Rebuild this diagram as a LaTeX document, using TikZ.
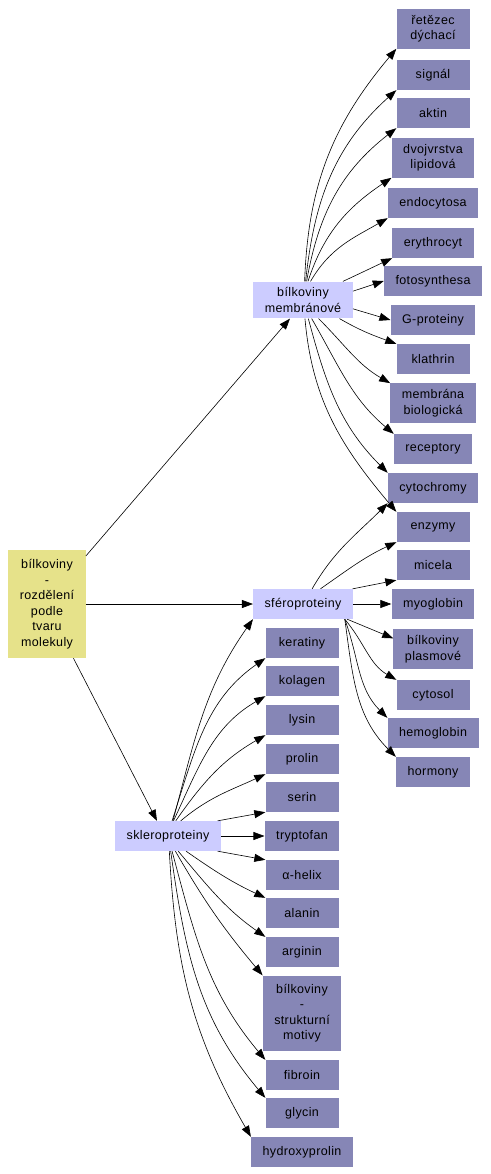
\documentclass[tikz,border=0pt]{standalone}
\usepackage{fontspec}
\setmainfont[LetterSpace=3]{Liberation Sans}
\usepackage{xcolor}
\usetikzlibrary{arrows.meta,positioning}
\definecolor{leafblue}{RGB}{134,134,182}
\definecolor{grouplilac}{RGB}{204,204,255}
\definecolor{rootkhaki}{RGB}{230,226,138}

\begin{document}
\begin{tikzpicture}[x=1pt, y=1pt, >={Triangle[length=11pt,width=8pt]},
        basebox/.style={minimum width=73pt, minimum height=30pt, inner xsep=11.5pt, inner ysep=6pt,
            align=center, font=\fontsize{12.5}{15.5}\selectfont},
        leafbox/.style={basebox, fill=leafblue},
        groupbox/.style={basebox, fill=grouplilac},
        rootbox/.style={basebox, fill=rootkhaki},
        edge/.style={->, line width=0.6pt}]
        \useasboundingbox (0,0) rectangle (490,-1174);

        % Root and the three groups
        \node[rootbox, minimum height=108pt] (root) at (47,-604) {bílkoviny\\-\\rozdělení\\podle\\tvaru\\molekuly};
        \node[groupbox] (mem) at (303,-300) {bílkoviny\\membránové};
        \node[groupbox] (sfe) at (303,-604) {sféroproteiny};
        \node[groupbox] (skl) at (168,-836) {skleroproteiny};

        % Right column
        \node[leafbox] (ret) at (433,-29) {řetězec\\dýchací};
        \node[leafbox] (sig) at (433,-75) {signál};
        \node[leafbox] (akt) at (433,-113) {aktin};
        \node[leafbox] (dvo) at (433,-158) {dvojvrstva\\lipidová};
        \node[leafbox] (endo) at (433,-203) {endocytosa};
        \node[leafbox] (ery) at (433,-243) {erythrocyt};
        \node[leafbox] (foto) at (433,-281) {fotosynthesa};
        \node[leafbox] (gpro) at (433,-320) {G-proteiny};
        \node[leafbox] (kla) at (433,-359) {klathrin};
        \node[leafbox] (mbio) at (433,-403) {membrána\\biologická};
        \node[leafbox] (rec) at (433,-449) {receptory};
        \node[leafbox] (cyto) at (433,-488) {cytochromy};
        \node[leafbox] (enz) at (433,-527) {enzymy};
        \node[leafbox] (mic) at (433,-565) {micela};
        \node[leafbox] (myo) at (433,-604) {myoglobin};
        \node[leafbox] (bpla) at (433,-649) {bílkoviny\\plasmové};
        \node[leafbox] (cyts) at (433,-695) {cytosol};
        \node[leafbox] (hemo) at (433,-733) {hemoglobin};
        \node[leafbox] (horm) at (433,-772) {hormony};

        % Middle column
        \node[leafbox] (ker) at (302,-643) {keratiny};
        \node[leafbox] (kol) at (302,-681) {kolagen};
        \node[leafbox] (lys) at (302,-720) {lysin};
        \node[leafbox] (pro) at (302,-759) {prolin};
        \node[leafbox] (ser) at (302,-797) {serin};
        \node[leafbox] (try) at (302,-836) {tryptofan};
        \node[leafbox] (ahel) at (302,-875) {α-helix};
        \node[leafbox] (ala) at (302,-913) {alanin};
        \node[leafbox] (arg) at (302,-952) {arginin};
        \node[leafbox, minimum height=75pt] (bsm) at (302,-1013) {bílkoviny\\-\\strukturní\\motivy};
        \node[leafbox] (fib) at (302,-1075) {fibroin};
        \node[leafbox] (gly) at (302,-1113) {glycin};
        \node[leafbox] (hyd) at (302,-1152) {hydroxyprolin};

        % Root edges
        \draw[edge] (root.51) -- (mem.235);
        \draw[edge] (root.east) -- (sfe.west);
        \draw[edge] (root.-64) -- (skl.126);

        % Membrane proteins
        \draw[edge] (mem.85) to[out=88, in=230] (ret.south west);
        \draw[edge] (mem.82) to[out=84, in=222] (sig.south west);
        \draw[edge] (mem.79) to[out=80, in=218] (akt.south west);
        \draw[edge] (mem.75) to[out=72, in=214] (dvo.south west);
        \draw[edge] (mem.68) to[out=60, in=210] (endo.south west);
        \draw[edge] (mem.25) to[out=25, in=205] (ery.south west);
        \draw[edge] (mem.10) -- (foto.west);
        \draw[edge] (mem.-10) -- (gpro.west);
        \draw[edge] (mem.-27) to[out=-30, in=160] (kla.north west);
        \draw[edge] (mem.-50) to[out=-45, in=150] (mbio.north west);
        \draw[edge] (mem.-65) to[out=-60, in=140] (rec.north west);
        \draw[edge] (mem.-74) to[out=-75, in=135] (cyto.north west);
        \draw[edge] (mem.-84) to[out=-85, in=130] (enz.north west);

        % Spheroproteins
        \draw[edge] (sfe.59) to[out=60, in=225] (cyto.south west);
        \draw[edge] (sfe.41) to[out=35, in=205] (enz.south west);
        \draw[edge] (sfe.17) -- (mic.south west);
        \draw[edge] (sfe.east) -- (myo.west);
        \draw[edge] (sfe.-19) -- (bpla.165);
        \draw[edge] (sfe.-20) to[out=-50, in=150] (cyts.north west);
        \draw[edge] (sfe.-20) to[out=-70, in=135] (hemo.north west);
        \draw[edge] (sfe.-20) to[out=-82, in=135] (horm.north west);

        % Scleroproteins
        \draw[edge] (skl.72) to[out=75, in=235] (sfe.south west);
        \draw[edge] (skl.75) to[out=72, in=215] (ker.south west);
        \draw[edge] (skl.70) to[out=65, in=210] (kol.south west);
        \draw[edge] (skl.63) to[out=55, in=210] (lys.south west);
        \draw[edge] (skl.50) to[out=40, in=205] (pro.south west);
        \draw[edge] (skl.17) -- (ser.south west);
        \draw[edge] (skl.east) -- (try.west);
        \draw[edge] (skl.-17) -- (ahel.north west);
        \draw[edge] (skl.-40) to[out=-35, in=155] (ala.north west);
        \draw[edge] (skl.-56) to[out=-50, in=145] (arg.north west);
        \draw[edge] (skl.-64) to[out=-60, in=130] (bsm.north west);
        \draw[edge] (skl.-75) to[out=-75, in=130] (fib.north west);
        \draw[edge] (skl.-80) to[out=-82, in=130] (gly.north west);
        \draw[edge] (skl.-85) to[out=-87, in=120] (hyd.north west);
    \end{tikzpicture}
\end{document}
